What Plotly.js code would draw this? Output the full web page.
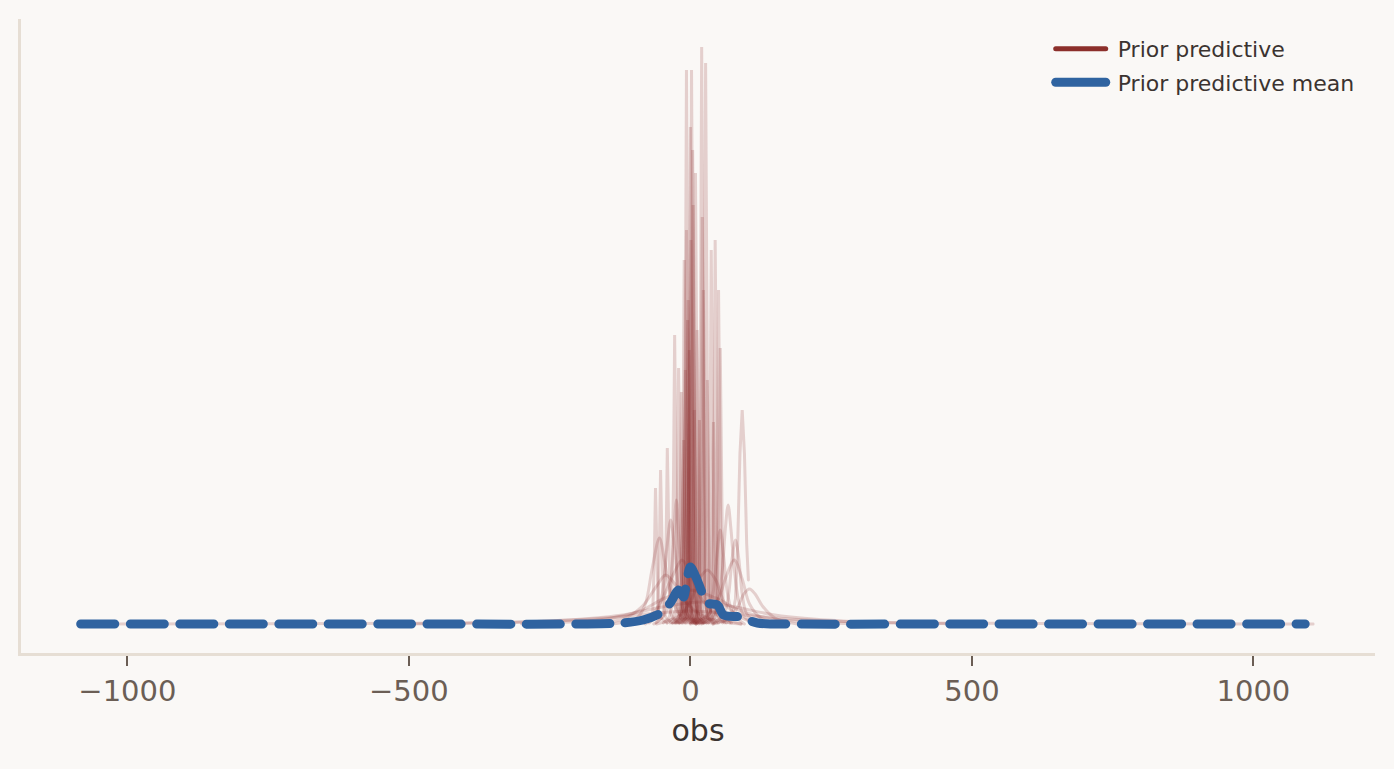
<!DOCTYPE html>
<html><head><meta charset="utf-8">
<script src="https://cdn.plot.ly/plotly-3.0.1.min.js"></script>
<style>
html,body{margin:0;padding:0;background:#faf8f6;}
#chart{width:1394px;height:769px;}
path.js-line{stroke-linecap:round !important;}
.legend path.js-line{stroke-dasharray:none !important;}
</style></head><body><div id="chart"></div>
<script>
// ---- data ----
const xTickVals = [-1000, -500, 0, 500, 1000];
const xTickText = ['\u22121000', '\u2212500', '0', '500', '1000'];
const seriesNames = ['Prior predictive', 'Prior predictive mean'];

// narrow prior predictive KDE curves (spikes)
const spikeX = [
  [0,10,15,18,20,22,25,30,40],
  [-27,-17,-12,-9,-7,-5,-2,3,13],
  [-18,-8,-3,0,2,4,7,12,22],
  [7,17,22,25,27,29,32,37,47],
  [-20,-10,-5,-2,0,2,5,10,20],
  [-11,-1,4,7,9,11,14,19,29],
  [-15,-5,0,3,5,7,10,15,25],
  [-27,-17,-12,-9,-7,-5,-2,3,13],
  [17,27,32,35,37,39,42,47,57],
  [24,34,39,42,44,46,49,54,64],
  [30,40,45,48,50,52,55,60,70],
  [-48,-38,-33,-30,-28,-26,-23,-18,-8],
  [-41,-31,-26,-23,-21,-19,-16,-11,-1],
  [-36,-26,-21,-18,-16,-14,-11,-6,4],
  [60,75,80,84,88,92,96,100,103],
  [-73,-63,-58,-55,-53,-51,-48,-43,-33],
  [-61,-51,-46,-43,-41,-39,-36,-31,-21],
  [33,43,48,51,53,55,58,63,73],
  [21,31,36,39,41,43,46,51,61],
  [10,20,25,28,30,32,35,40,50],
  [-24,-14,-9,-6,-4,-2,1,6,16],
  [-31,-21,-16,-13,-11,-9,-6,-1,9],
  [-8,2,7,10,12,14,17,22,32],
  [-4,6,11,14,16,18,21,26,36],
  [-32,-22,-17,-14,-12,-10,-7,-2,8],
  [3,13,18,21,23,25,28,33,43],
  [-16,-6,-1,2,4,6,9,14,24],
  [-22,-12,-7,-4,-2,0,3,8,18],
  [-82,-72,-67,-64,-62,-60,-57,-52,-42],
  [-25,-15,-10,-7,-5,-3,0,5,15],
  [-19,-9,-4,-1,1,3,6,11,21],
  [-13,-3,2,5,7,9,12,17,27],
  [-29,-19,-14,-11,-9,-7,-4,1,11],
  [1,11,16,19,21,23,26,31,41]
];
const spikeY = [
  [0.0001,0.0006,0.0035,0.0289,0.0577,0.0289,0.0035,0.0006,0.0001],
  [0.0001,0.0006,0.0033,0.0277,0.0554,0.0277,0.0033,0.0006,0.0001],
  [0.0001,0.0006,0.0033,0.0277,0.0554,0.0277,0.0033,0.0006,0.0001],
  [0.0001,0.0006,0.0034,0.0280,0.0561,0.0280,0.0034,0.0006,0.0001],
  [0.0001,0.0007,0.0030,0.0248,0.0497,0.0248,0.0030,0.0007,0.0001],
  [0.0001,0.0007,0.0027,0.0225,0.0451,0.0225,0.0027,0.0007,0.0001],
  [0.0001,0.0007,0.0025,0.0210,0.0419,0.0210,0.0025,0.0007,0.0001],
  [0.0001,0.0007,0.0024,0.0197,0.0394,0.0197,0.0024,0.0007,0.0001],
  [0.0001,0.0006,0.0022,0.0187,0.0374,0.0187,0.0022,0.0006,0.0001],
  [0.0001,0.0006,0.0023,0.0192,0.0384,0.0192,0.0023,0.0006,0.0001],
  [0.0001,0.0006,0.0020,0.0167,0.0334,0.0167,0.0020,0.0006,0.0001],
  [0.0001,0.0006,0.0017,0.0145,0.0289,0.0145,0.0017,0.0006,0.0001],
  [0.0001,0.0006,0.0015,0.0128,0.0256,0.0128,0.0015,0.0006,0.0001],
  [0.0001,0.0006,0.0014,0.0116,0.0232,0.0116,0.0014,0.0006,0.0001],
  [0.0003,0.0010,0.0025,0.0080,0.0170,0.0214,0.0170,0.0080,0.0044],
  [0.0001,0.0006,0.0012,0.0077,0.0154,0.0077,0.0012,0.0006,0.0001],
  [0.0001,0.0006,0.0012,0.0088,0.0176,0.0088,0.0012,0.0006,0.0001],
  [0.0001,0.0006,0.0016,0.0138,0.0276,0.0138,0.0016,0.0006,0.0001],
  [0.0001,0.0006,0.0013,0.0101,0.0202,0.0101,0.0013,0.0006,0.0001],
  [0.0001,0.0006,0.0015,0.0122,0.0244,0.0122,0.0015,0.0006,0.0001],
  [0.0001,0.0006,0.0020,0.0162,0.0324,0.0162,0.0020,0.0006,0.0001],
  [0.0001,0.0006,0.0022,0.0182,0.0364,0.0182,0.0022,0.0006,0.0001],
  [0.0001,0.0006,0.0018,0.0147,0.0294,0.0147,0.0018,0.0006,0.0001],
  [0.0001,0.0006,0.0013,0.0102,0.0204,0.0102,0.0013,0.0006,0.0001],
  [0.0001,0.0006,0.0012,0.0092,0.0184,0.0092,0.0012,0.0006,0.0001],
  [0.0001,0.0006,0.0020,0.0167,0.0334,0.0167,0.0020,0.0006,0.0001],
  [0.0001,0.0007,0.0028,0.0237,0.0474,0.0237,0.0028,0.0007,0.0001],
  [0.0001,0.0006,0.0016,0.0137,0.0274,0.0137,0.0016,0.0006,0.0001],
  [0.0001,0.0006,0.0010,0.0068,0.0136,0.0068,0.0010,0.0006,0.0001],
  [0.0001,0.0006,0.0018,0.0152,0.0304,0.0152,0.0018,0.0006,0.0001],
  [0.0001,0.0006,0.0023,0.0192,0.0384,0.0192,0.0023,0.0006,0.0001],
  [0.0001,0.0006,0.0013,0.0107,0.0214,0.0107,0.0013,0.0006,0.0001],
  [0.0001,0.0006,0.0015,0.0127,0.0254,0.0127,0.0015,0.0006,0.0001],
  [0.0001,0.0006,0.0024,0.0203,0.0407,0.0203,0.0024,0.0006,0.0001]
];

// broader prior predictive KDE curves
const bumpX = [
  [20,40,50,57,62,67,72,78,85,95,115],
  [40,60,68,74,80,86,92,100,120],
  [0,30,50,62,78,92,105,125,160],
  [-140,-95,-80,-68,-55,-45,-35,-20,10],
  [-200,-120,-85,-60,-44,-25,-5,30,90],
  [-300,-150,-90,-45,0,45,90,150,300],
  [-500,-250,-120,-50,18,80,150,270,500],
  [-1087,-600,-300,-150,-60,0,60,150,300,600,1106],
  [-80,-60,-50,-42,-35,-28,-20,-10,10],
  [10,30,40,47,53,59,66,76,96],
  [-65,-45,-37,-30,-25,-20,-13,-5,15],
  [40,70,85,95,105,115,128,150,190],
  [-110,-70,-50,-30,-15,0,20,50,90],
  [-60,-20,0,15,30,45,60,85,120]
];
const bumpY = [
  [0,0.0008,0.0025,0.0055,0.0095,0.0119,0.0095,0.0055,0.0025,0.0008,0],
  [0,0.0010,0.0030,0.0065,0.0084,0.0065,0.0030,0.0010,0],
  [0,0.0008,0.0025,0.0045,0.0064,0.0045,0.0020,0.0006,0],
  [0,0.0006,0.0020,0.0055,0.0086,0.0060,0.0030,0.0010,0],
  [0,0.0005,0.0018,0.0038,0.0049,0.0038,0.0020,0.0006,0],
  [0,0.0005,0.0013,0.0026,0.0034,0.0026,0.0013,0.0005,0],
  [0,0.0003,0.0009,0.0017,0.0022,0.0017,0.0009,0.0003,0],
  [0,0.00005,0.0002,0.0006,0.0011,0.0013,0.0011,0.0006,0.0002,0.00005,0],
  [0,0.0010,0.0030,0.0075,0.0104,0.0075,0.0030,0.0010,0],
  [0,0.0010,0.0030,0.0068,0.0094,0.0068,0.0030,0.0010,0],
  [0,0.0010,0.0030,0.0080,0.0124,0.0080,0.0030,0.0010,0],
  [0,0.0006,0.0018,0.0030,0.0035,0.0030,0.0018,0.0006,0],
  [0,0.0008,0.0025,0.0050,0.0064,0.0050,0.0025,0.0008,0],
  [0,0.0008,0.0022,0.0044,0.0054,0.0044,0.0022,0.0008,0]
];

// prior predictive mean
const meanX = [-1083,-500,-200,-120,-84,-53,-36,-21,-12,-7,0,12,21,30,48,59,89,119,200,500,1092];
const meanY = [0,0,0,0.0001,0.0004,0.0011,0.0021,0.0034,0.0027,0.0041,0.0057,0.0044,0.0031,0.0021,0.0019,0.0009,0.0007,0.0001,0,0,0];

// ---- build traces ----
const ppColor = 'rgba(140,47,43,0.2)';
const traces = [];
spikeX.forEach((xs, i) => {
  traces.push({x: xs, y: spikeY[i], type: 'scatter', mode: 'lines',
    line: {color: ppColor, width: 3, shape: 'linear'}, showlegend: false, hoverinfo: 'skip'});
});
bumpX.forEach((xs, i) => {
  traces.push({x: xs, y: bumpY[i], type: 'scatter', mode: 'lines',
    line: {color: ppColor, width: 3, shape: 'spline', smoothing: 0.9}, showlegend: false, hoverinfo: 'skip'});
});
traces.push({x: [null], y: [null], type: 'scatter', mode: 'lines', name: '\u00a0' + seriesNames[0],
  legendgroup: 'pp', line: {color: '#8c2f2b', width: 5}});
traces.push({x: meanX, y: meanY, type: 'scatter', mode: 'lines', name: '\u00a0' + seriesNames[1],
  legendgroup: 'mean', hoverinfo: 'skip',
  line: {color: '#2f63a0', width: 9, dash: '34px,15.5px', shape: 'spline', smoothing: 0.8}});

const layout = {
  width: 1394, height: 769,
  paper_bgcolor: '#faf8f6', plot_bgcolor: '#faf8f6',
  margin: {l: 21, r: 19, t: 19, b: 116, pad: 0},
  font: {family: 'DejaVu Sans', color: '#3b3330'},
  showlegend: true,
  xaxis: {
    range: [-1189, 1216], showgrid: false, zeroline: false,
    showline: true, linecolor: '#e6ded4', linewidth: 3,
    ticks: 'outside', ticklen: 10, tickwidth: 2, tickcolor: '#6b5e55',
    tickmode: 'array', tickvals: xTickVals, ticktext: xTickText,
    tickfont: {size: 29, color: '#6b5e55', family: 'DejaVu Sans'},
    title: {text: 'obs', font: {size: 30, color: '#3b3330', family: 'DejaVu Sans'}, standoff: 14}
  },
  yaxis: {
    range: [-0.0029, 0.0605], showgrid: false, zeroline: false,
    showline: true, linecolor: '#e6ded4', linewidth: 3,
    ticks: '', showticklabels: false
  },
  legend: {
    x: 0.7605, y: 0.986, xanchor: 'left', yanchor: 'top',
    itemwidth: 50, traceorder: 'grouped', tracegroupgap: 2,
    bgcolor: 'rgba(0,0,0,0)', borderwidth: 0,
    font: {size: 22, color: '#3b3330', family: 'DejaVu Sans'}
  }
};

Plotly.newPlot('chart', traces, layout, {displayModeBar: false, staticPlot: true});
</script></body></html>
